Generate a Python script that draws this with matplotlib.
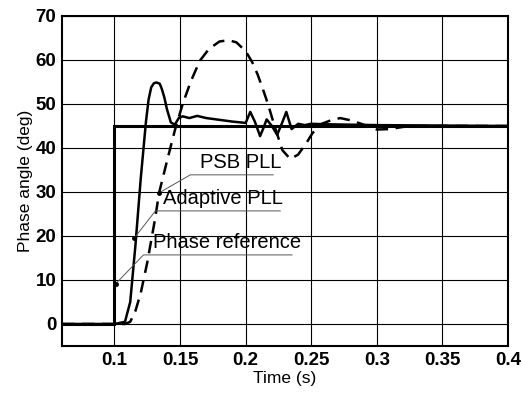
import numpy as np
import matplotlib
matplotlib.use('Agg')
import matplotlib.pyplot as plt

# Phase reference (step at t = 0.1 s)
t_ref = [0.06, 0.1, 0.1, 0.4]
phase_ref = [0, 0, 45, 45]

# Adaptive PLL (solid)
t_adapt = [0.06, 0.1, 0.108, 0.112, 0.116, 0.12, 0.124, 0.126, 0.128, 0.13, 0.132,
           0.1345, 0.136, 0.138, 0.14, 0.143, 0.146, 0.149, 0.152, 0.157, 0.163,
           0.17, 0.18, 0.19, 0.2, 0.2035, 0.207, 0.211, 0.2135, 0.216, 0.22, 0.224,
           0.2275, 0.231, 0.235, 0.238, 0.24, 0.245, 0.25, 0.26, 0.28, 0.3, 0.35, 0.4]
phase_adapt = [0, 0, 0.5, 5, 18, 33, 46, 51, 53.8, 54.7, 54.9,
               54.6, 53.5, 51.5, 48.8, 45.8, 45.3, 46.8, 47.2, 46.8, 47.3,
               46.8, 46.4, 46.0, 45.7, 48.2, 46.0, 42.7, 44.5, 46.5, 45.0, 43.0,
               45.5, 48.2, 44.3, 45.0, 45.5, 45.2, 45.5, 45.4, 45.3, 45.2, 45.1, 45.0]

# PSB PLL (dashed)
t_psb = [0.06, 0.1, 0.108, 0.112, 0.116, 0.12, 0.125, 0.131, 0.134, 0.14, 0.146,
         0.152, 0.158, 0.165, 0.172, 0.18, 0.187, 0.193, 0.2, 0.205, 0.209,
         0.213, 0.217, 0.222, 0.228, 0.234, 0.24, 0.246, 0.251, 0.258, 0.265,
         0.272, 0.28, 0.29, 0.3, 0.31, 0.32, 0.33, 0.35, 0.4]
phase_psb = [0, 0, 0, 0.5, 3, 7, 14, 24, 29.8, 37, 44,
             50, 55, 59.8, 62.5, 64.2, 64.5, 64.0, 62, 59.5, 56.8,
             53.5, 50, 45, 39.5, 37.5, 38.5, 41, 43.4, 45.5, 46.3,
             46.8, 46.3, 45.3, 44.2, 44.3, 44.8, 45.0, 45.0, 45.0]

# annotation labels: (text, dot point, underline start, underline end)
labels = ['PSB PLL', 'Adaptive PLL', 'Phase reference']
dots = [(0.134, 29.8), (0.115, 19.5), (0.1008, 9.1)]
line_y = [33.9, 25.7, 15.7]
line_x0 = [0.1578, 0.1312, 0.1221]
line_x1 = [0.221, 0.2263, 0.2354]
text_x = [0.1655, 0.1373, 0.1297]

plt.rcParams['font.family'] = ['Liberation Sans', 'DejaVu Sans']

fig = plt.figure(figsize=(5.22, 3.93), dpi=100)
ax = fig.add_axes([0.1188, 0.1196, 0.8544, 0.8397])

ax.plot(t_ref, phase_ref, color='black', lw=2.2, solid_joinstyle='miter')
ax.plot(t_adapt, phase_adapt, color='black', lw=1.8)
ax.plot(t_psb, phase_psb, color='black', lw=1.8, dashes=(5, 3))

for lab, (dx, dy), ly, x0, x1, tx in zip(labels, dots, line_y, line_x0, line_x1, text_x):
    ax.plot([dx, x0, x1], [dy, ly, ly], color='#555555', lw=0.7)
    ax.plot(dx, dy, 'o', color='black', ms=2.5)
    ax.text(tx, ly + 0.6, lab, fontsize=14.5, ha='left', va='bottom')

ax.set_xlim(0.06, 0.4)
ax.set_ylim(-5, 70)
ax.set_xticks([0.1, 0.15, 0.2, 0.25, 0.3, 0.35, 0.4])
ax.set_xticklabels(['0.1', '0.15', '0.2', '0.25', '0.3', '0.35', '0.4'])
ax.set_yticks([0, 10, 20, 30, 40, 50, 60, 70])
ax.grid(True, color='black', lw=0.8)
ax.tick_params(length=0, labelsize=13.5, pad=4)
for lab in ax.get_xticklabels() + ax.get_yticklabels():
    lab.set_fontweight('bold')
for s in ax.spines.values():
    s.set_linewidth(1.5)

ax.set_xlabel('Time (s)', fontsize=12.5, labelpad=2)
ax.set_ylabel('Phase angle (deg)', fontsize=12.5, labelpad=2)

fig.savefig('out.png', dpi=100)
